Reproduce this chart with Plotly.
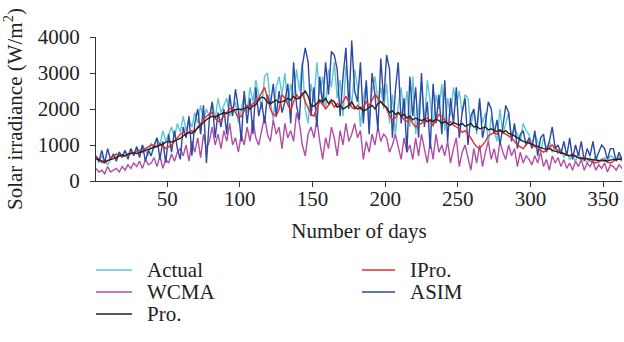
import plotly.graph_objects as go

days = list(range(1, 366, 2))

pro = [620,580,560,540,560,600,620,650,700,720,
       700,740,760,780,760,800,820,850,880,900,
       920,960,1000,1020,1080,1100,1080,1120,1150,1180,
       1250,1300,1350,1320,1400,1480,1560,1620,1700,1760,
       1800,1780,1820,1870,1900,1880,1920,1950,1980,2000,
       1980,2020,2050,2000,2080,2120,2250,2330,2300,2180,
       2150,2200,2250,2180,2200,2230,2300,2250,2350,2280,
       2300,2400,2500,2350,2100,2080,2150,2250,2200,2300,
       2150,2250,2200,2050,2100,2000,2050,2100,2200,2050,
       2000,2050,1950,1980,2050,2100,2000,2150,2200,2100,
       2050,1900,1950,1850,1900,1800,1850,1750,1800,1700,
       1750,1700,1680,1720,1650,1700,1650,1720,1680,1600,
       1650,1600,1550,1620,1580,1550,1600,1520,1550,1600,
       1500,1520,1450,1480,1500,1420,1450,1400,1380,1420,
       1350,1400,1320,1300,1250,1200,1150,1100,1080,1050,
       1000,980,950,920,900,880,900,850,830,800,
       780,760,720,700,720,680,650,640,620,600,
       600,590,580,560,560,570,560,580,600,590,
       600,620,650]

ipro = [680,600,520,500,560,620,700,750,720,680,
        700,760,800,780,820,850,800,900,950,1000,
        980,950,1050,980,900,950,1000,1100,1200,1300,
        1350,1300,1350,1400,1350,1500,1600,1700,1800,1850,
        1900,1750,1650,1700,1800,1900,2000,2050,1900,1750,
        1800,1950,2100,2050,2150,2200,2300,2450,2600,2300,
        2000,1850,1800,2000,2400,2300,2100,1950,2200,2400,
        2300,2450,2200,2000,1850,1800,2050,2200,2150,2000,
        2100,2200,2050,2150,2100,2200,2350,2200,2050,2000,
        2100,2000,2050,2200,2100,2250,2400,2300,2200,2150,
        2000,1800,1700,1750,1900,1850,1700,1650,1750,1600,
        1500,1550,1600,1700,1750,1650,1550,1700,1850,1800,
        1700,1600,1650,1550,1500,1450,1350,1400,1300,1200,
        1050,950,900,1000,1100,1250,1300,1350,1300,1400,
        1350,1300,1250,1200,1100,1000,950,900,1000,1100,
        1000,950,900,850,800,850,950,1000,900,850,
        800,750,720,700,750,700,650,600,650,620,
        560,520,500,550,600,580,520,500,550,600,
        620,580,650]

actual = [650,500,700,550,450,600,750,650,800,700,
          850,700,900,750,950,800,1000,850,700,1050,
          900,1200,1000,1400,1100,1300,1500,1200,1600,1350,
          1800,1400,1700,1500,1900,1600,2100,1700,2000,1800,
          2200,1700,2300,1900,2100,2300,1800,2000,2200,1600,
          2000,2400,1900,2600,2200,2800,2400,2000,2900,3000,
          2200,1700,2600,2900,2400,3000,2100,2700,2300,3100,
          2500,3300,2000,1600,2700,2200,3300,2400,2900,2000,
          3100,2600,3300,2300,2800,1800,3200,2700,2100,3100,
          2600,1500,2300,2700,1700,2500,2900,2200,2600,2000,
          2700,1600,2400,1300,2100,2600,1800,2500,1500,2900,
          1300,2000,2700,1600,2800,2200,1500,2400,2000,2700,
          1400,2300,1800,2600,2100,2500,1900,2400,2300,1500,
          2000,1300,2200,1600,1900,1000,1800,1400,1100,2000,
          1300,1600,1900,1200,1500,1300,1100,1600,1400,1300,
          1000,1300,1100,800,1200,900,1100,800,1000,750,
          900,650,800,600,700,550,800,600,650,500,
          650,550,700,500,600,650,550,700,650,600,
          700,550,650]

wcma = [350,250,300,200,400,250,300,350,250,400,
        300,450,350,500,400,550,350,600,450,500,
        650,400,700,350,600,500,750,550,800,900,
        700,1000,550,1100,800,1200,650,1300,900,1100,
        1500,1000,1300,900,1400,1100,1600,1000,1200,800,
        1300,1000,1500,1100,1700,1200,1000,1400,1800,1300,
        1100,1700,1300,1500,900,1600,1200,1400,1100,1900,
        1600,1000,700,1300,1500,1200,1700,1100,600,1200,
        900,1500,1200,700,1400,1000,1600,1100,1300,1600,
        1200,1400,600,1100,800,1300,1000,1500,1100,1300,
        1200,800,1000,1300,900,600,1200,800,1000,600,
        1200,700,1300,900,500,1100,600,1300,800,1000,
        700,1100,500,900,1200,400,800,1000,600,300,
        900,500,1000,400,800,1100,600,900,500,1100,
        800,600,1000,700,900,400,800,500,700,600,
        450,700,500,800,400,600,300,700,500,650,
        400,600,350,500,300,550,400,600,300,500,
        400,550,300,450,350,500,250,450,400,300,
        450,350,400]

asim = [700,550,850,500,900,600,750,550,800,650,
        850,600,900,700,950,650,1000,550,850,700,
        1000,1200,600,1100,500,1300,800,1400,900,600,
        1500,1200,1800,700,1600,2000,1300,2100,500,1700,
        2200,1200,1900,1500,2000,1300,2400,1800,2550,2000,
        1100,2500,1600,2300,1300,2600,1800,2200,1600,2400,
        2100,2700,1800,2500,1900,2200,2700,1600,3300,2100,
        1700,3200,3700,3300,1800,2600,1500,2900,2100,3300,
        2400,3600,3500,3100,1800,2900,3700,2000,3900,2500,
        2200,3300,1600,2800,1300,3000,2400,1400,3400,2200,
        3500,3100,1200,2500,3300,1600,2300,800,2900,1800,
        2600,1200,3000,1500,2200,900,2700,1600,2400,1300,
        2800,1100,2300,1600,2600,1200,1900,2300,1000,1800,
        2000,1400,2300,1200,1600,2200,2000,1300,1700,1000,
        1500,2100,1900,1100,1600,900,1300,1400,1000,1200,
        900,1400,700,1200,1300,800,1100,1500,900,1000,
        750,1100,700,1200,600,1000,700,1100,550,900,
        700,1100,600,800,1000,900,600,900,900,550,
        800,600,700]

legend_names = ["Actual", "WCMA", "Pro.", "IPro.", "ASIM"]
colors = {"Actual": "#5cc7d6", "WCMA": "#b04ea6", "Pro.": "#222222",
          "IPro.": "#ea2a2c", "ASIM": "#2e48a3"}
values = {"Actual": actual, "WCMA": wcma, "Pro.": pro, "IPro.": ipro, "ASIM": asim}
draw_order = ["Actual", "WCMA", "ASIM", "IPro.", "Pro."]

font = "Liberation Serif"
fsize = 21

fig = go.Figure()
for name in draw_order:
    fig.add_trace(go.Scatter(x=days, y=values[name], mode="lines", name=name,
                             line=dict(color=colors[name], width=1.4),
                             showlegend=False, hoverinfo="skip"))

# legend drawn as annotations + short lines, two columns
L, R, T, B = 96, 622, 37, 181
def px_x(p):
    return (p - L) / (R - L)
def px_y(p):
    return (B - p) / (B - T)

col_line_x = [(96, 132), (362, 395)]
col_text_x = [145, 408]
row_y = [270, 292, 314]
shapes = []
annotations = []
for i, name in enumerate(legend_names):
    col = 0 if i < 3 else 1
    row = i if i < 3 else i - 3
    y = px_y(row_y[row])
    x0, x1 = col_line_x[col]
    shapes.append(dict(type="line", xref="paper", yref="paper",
                       x0=px_x(x0), x1=px_x(x1), y0=y, y1=y,
                       line=dict(color=colors[name], width=1.5)))
    annotations.append(dict(text=name, xref="paper", yref="paper",
                            x=px_x(col_text_x[col]), y=y, xanchor="left", yanchor="middle",
                            showarrow=False,
                            font=dict(family=font, size=fsize, color="#222")))

axis_common = dict(showline=True, linecolor="#333", linewidth=1, ticks="outside",
                   ticklen=5, tickcolor="#333", showgrid=False, zeroline=False,
                   automargin=False,
                   tickfont=dict(family=font, size=fsize, color="#222"))
fig.update_xaxes(range=[1, 363], tickvals=[50, 100, 150, 200, 250, 300, 350],
                 ticklabelstandoff=-6,
                 title=dict(text="Number of days", font=dict(family=font, size=fsize, color="#222"), standoff=13),
                 **axis_common)
fig.update_yaxes(range=[0, 4000], tickvals=[0, 1000, 2000, 3000, 4000],
                 ticklabelstandoff=6,
                 title=dict(text="Solar irradiance (W/m<sup>2</sup>)", font=dict(family=font, size=fsize, color="#222"), standoff=14),
                 **axis_common)
fig.update_layout(
    width=624, height=342,
    margin=dict(l=L, r=624 - R, t=T, b=342 - B, autoexpand=False),
    paper_bgcolor="white", plot_bgcolor="white",
    showlegend=False,
    shapes=shapes, annotations=annotations,
)
fig.write_html("out.html", config={"displayModeBar": False},
               post_script="document.body.style.margin='0';document.body.style.overflow='hidden';")
